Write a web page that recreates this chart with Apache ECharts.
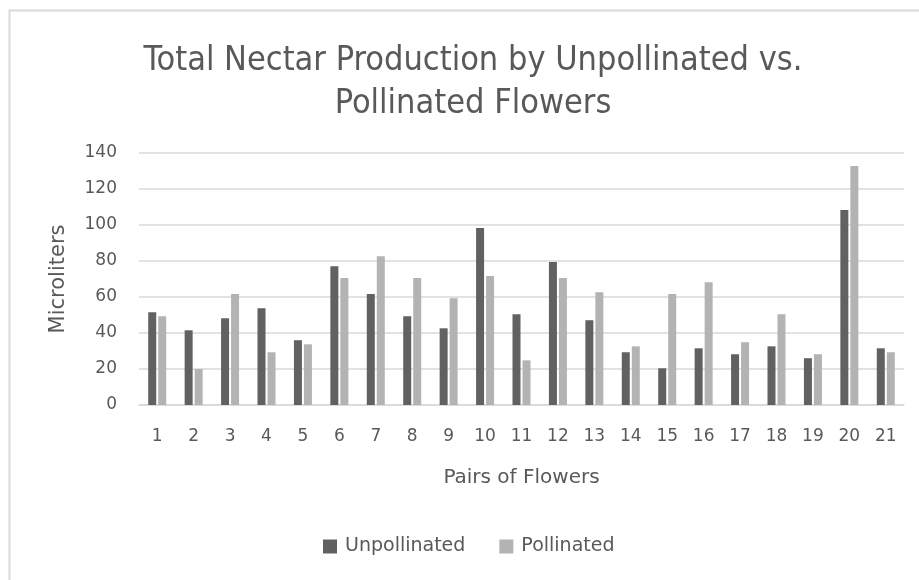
<!DOCTYPE html>
<html>
<head>
<meta charset="utf-8">
<script src="https://cdn.jsdelivr.net/npm/echarts@6/dist/echarts.min.js"></script>
<style>
html,body{margin:0;padding:0;background:#fff;}
#chart{width:919px;height:580px;}
</style>
</head>
<body>
<div id="chart"></div>
<script>
const categories = ['1','2','3','4','5','6','7','8','9','10','11','12','13','14','15','16','17','18','19','20','21'];
const unpollinated = [51.5, 41.5, 48.2, 53.8, 36, 77.1, 61.6, 49.3, 42.6, 98.3, 50.4, 79.4, 47.1, 29.3, 20.4, 31.5, 28.2, 32.6, 26, 108.3, 31.5];
const pollinated = [49.3, 20, 61.6, 29.3, 33.7, 70.5, 82.7, 70.5, 59.3, 71.6, 24.8, 70.5, 62.7, 32.6, 61.6, 68.2, 34.9, 50.4, 28.2, 132.8, 29.3];
const seriesNames = ['Unpollinated', 'Pollinated'];
const titleText = 'Total Nectar Production by Unpollinated vs.\nPollinated Flowers';

const TFONT = '"DejaVu Sans Condensed", "Liberation Sans Narrow", sans-serif';
const FONT = '"DejaVu Sans", sans-serif';
const TXT = '#595959';
const chart = echarts.init(document.getElementById('chart'), null, {renderer: 'canvas'});
chart.setOption({
  backgroundColor: '#fff',
  animation: false,
  graphic: [{
    type: 'rect', left: 7, top: 8, shape: {width: 960, height: 620},
    style: {fill: 'none', stroke: '#d9d9d9', lineWidth: 2}, silent: true
  }],
  title: {
    text: titleText, left: 468, top: 35, textAlign: 'center',
    textStyle: {fontFamily: TFONT, fontSize: 34, fontWeight: 'normal', color: TXT, lineHeight: 43}
  },
  legend: {
    data: seriesNames, left: 318, top: 532, itemWidth: 14, itemHeight: 14, itemGap: 34,
    icon: 'rect',
    textStyle: {fontFamily: FONT, fontSize: 19, color: TXT, padding: [0, 0, 0, 3]}
  },
  grid: {left: 139, right: 15, top: 153, bottom: 175},
  xAxis: {
    type: 'category', data: categories,
    name: 'Pairs of Flowers', nameLocation: 'middle', nameGap: 63,
    nameTextStyle: {fontFamily: FONT, fontSize: 20, color: TXT},
    axisLine: {lineStyle: {color: '#d9d9d9', width: 1.5}},
    axisTick: {show: false},
    axisLabel: {fontFamily: FONT, fontSize: 17, color: TXT, margin: 23}
  },
  yAxis: {
    type: 'value', min: 0, max: 140, interval: 20,
    name: 'Microliters', nameLocation: 'middle', nameGap: 70, nameRotate: 90,
    nameTextStyle: {fontFamily: FONT, fontSize: 21, color: TXT},
    axisLine: {show: false}, axisTick: {show: false},
    axisLabel: {fontFamily: FONT, fontSize: 17, color: TXT, margin: 22},
    splitLine: {lineStyle: {color: '#d9d9d9', width: 1.5}}
  },
  series: [
    {name: seriesNames[0], type: 'bar', data: unpollinated, barWidth: 8, barGap: '25%',
     itemStyle: {color: '#616161'}},
    {name: seriesNames[1], type: 'bar', data: pollinated, barWidth: 8,
     itemStyle: {color: '#b3b3b3'}}
  ]
});
</script>
</body>
</html>
